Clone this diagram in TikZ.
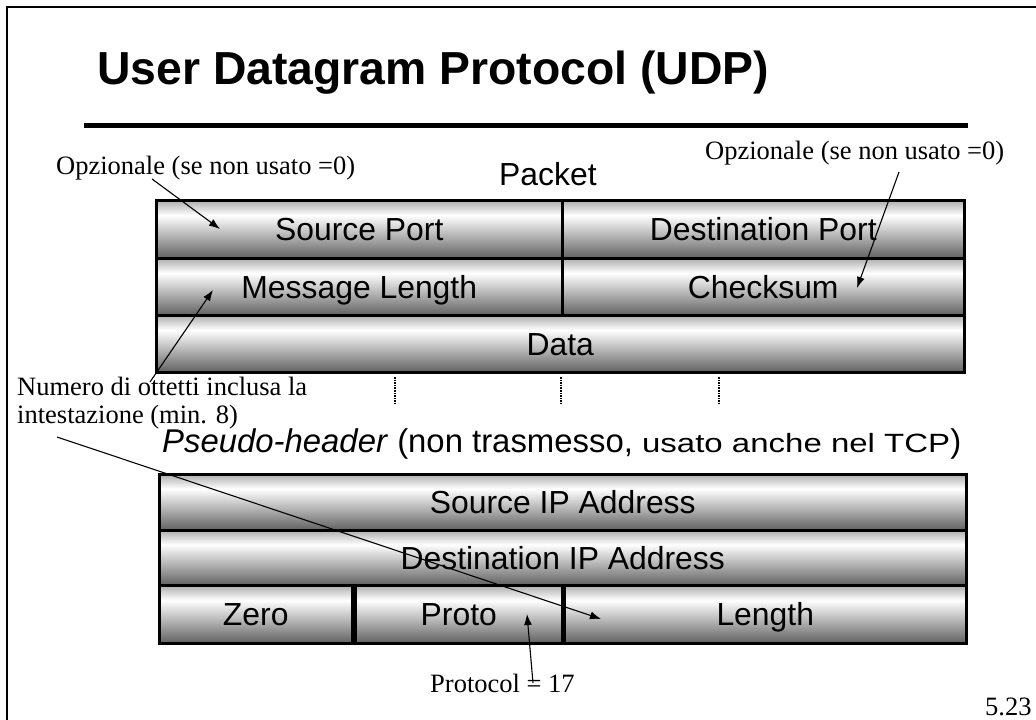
\documentclass[tikz,border=0pt]{standalone}
\usepackage{fontspec}
\usepackage{graphicx}
\setmainfont{Liberation Serif}
\setsansfont{Liberation Sans}
\usetikzlibrary{arrows.meta}
\pgfdeclareverticalshading{fieldshade}{100bp}{color(0bp)=(black!62); color(25bp)=(black!62);
  color(62bp)=(white); color(75bp)=(black!32); color(100bp)=(black!32)}
\tikzset{field/.style={draw,line width=2.5bp,shading=fieldshade,anchor=north west,inner sep=0pt,
           text height=23bp,text depth=0pt,font=\sffamily\fontsize{32}{38}\selectfont},
         note/.style={anchor=base west,inner sep=0pt,font=\rmfamily\fontsize{26.6}{30}\selectfont},
         pointer/.style={-{Latex[length=11bp,width=8bp]},line width=1.1bp},
         x=1bp,y=-1bp}

\begin{document}
\begin{tikzpicture}
      \useasboundingbox (0,0) rectangle (1036,720);
      \draw[line width=2.5bp] (7,720) |- (1036,7);
      \node[anchor=base west,inner sep=0pt,font=\sffamily\bfseries\fontsize{46.5}{52}\selectfont]
          (title) at (97,85) {User Datagram Protocol (UDP)};
      \draw[line width=5bp] (84,125.5) -- (968,125.5);
      % UDP packet
      \node[anchor=base west,inner sep=0pt,font=\sffamily\fontsize{32}{38}\selectfont]
          (packet) at (499,186) {Packet};
      \node[field,minimum width=406bp,minimum height=58bp] (srcport) at (155,199) {Source Port};
      \node[field,minimum width=402bp,minimum height=58bp] (dstport) at (561,199) {Destination Port};
      \node[field,minimum width=406bp,minimum height=57bp] (msglen) at (155,257) {Message Length};
      \node[field,minimum width=402bp,minimum height=57bp] (checksum) at (561,257) {Checksum};
      \node[field,minimum width=808bp,minimum height=57bp] (data) at (155,314) {Data};
      \foreach \x in {395,561,719}
          \draw[line width=1.6bp,densely dotted] (\x,377) -- (\x,404);
      % pseudo-header
      \node[anchor=base west,inner sep=0pt,font=\sffamily\fontsize{33}{38}\selectfont]
          (pseudo) at (162,452) {\textit{Pseudo-header} (non trasmesso,
          \scalebox{1.25}[1]{\fontsize{26.5}{30}\selectfont usato anche nel TCP})};
      \node[field,minimum width=807bp,minimum height=56bp] (srcip) at (158,473) {Source IP Address};
      \node[field,minimum width=807bp,minimum height=55bp] (dstip) at (158,529) {Destination IP Address};
      \node[field,minimum width=193bp,minimum height=58bp] (zero) at (158,584) {Zero};
      \node[field,minimum width=207bp,minimum height=58bp] (proto) at (354,584) {Proto};
      \node[field,minimum width=402bp,minimum height=58bp] (length) at (563,584) {Length};
      % notes
      \node[note] (optleft) at (56,175) {Opzionale (se non usato =0)};
      \node[note] (optright) at (705,160) {Opzionale (se non usato =0)};
      \node[note] (numero) at (17,395) {Numero di ottetti inclusa la};
      \node[note] (intest) at (17,423) {intestazione (min. 8)};
      \node[note] (protonum) at (430,692) {Protocol = 17};
      \node[note] (page) at (985,715) {5.23};
      \coordinate (a) at (152,179);
      \coordinate (b) at (899,172);
      \coordinate (c) at (150,382);
      \coordinate (d) at (57,437);
      \coordinate (e) at (533,683);
      \draw[pointer] (a) -- (220,229);
      \draw[pointer] (b) -- (857,288);
      \draw[pointer] (c) -- (213,290);
      \draw[pointer] (d) -- (601,619);
      \draw[pointer] (e) -- (527,614);
\end{tikzpicture}
\end{document}
